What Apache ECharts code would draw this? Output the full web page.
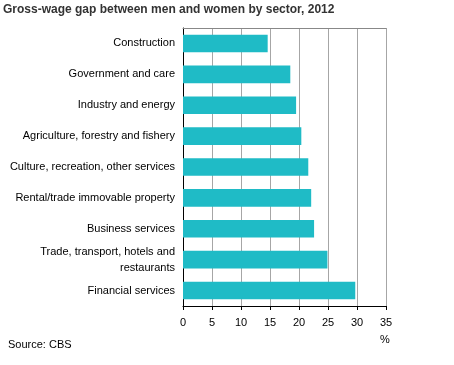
<!DOCTYPE html>
<html><head><meta charset="utf-8">
<script src="https://cdn.jsdelivr.net/npm/echarts@6/dist/echarts.min.js"></script>
<style>html,body{margin:0;padding:0;background:#fff}#c{width:454px;height:365px}</style>
</head><body><div id="c"></div>
<script>
const categories = ["Construction","Government and care","Industry and energy","Agriculture, forestry and fishery","Culture, recreation, other services","Rental/trade immovable property","Business services","Trade, transport, hotels and\nrestaurants","Financial services"];
const values = [14.6, 18.5, 19.5, 20.4, 21.6, 22.1, 22.6, 24.9, 29.7];
const xTicks = [0,5,10,15,20,25,30,35];
const chart = echarts.init(document.getElementById('c'), null, {renderer:'canvas'});
const font = 'Arial, "Liberation Sans", sans-serif';
chart.setOption({
  animation:false,
  title:[
    {text:"Gross-wage gap between men and women by sector, 2012", left:3, top:4, padding:0, textStyle:{fontFamily:font, fontSize:12, fontWeight:'bold', color:'#333'}},
    {text:"Source: CBS", left:8, top:339, padding:0, textStyle:{fontFamily:font, fontSize:11, fontWeight:'normal', color:'#000'}},
    {text:"%", left:380, top:334, padding:0, textStyle:{fontFamily:font, fontSize:11, fontWeight:'normal', color:'#000'}}
  ],
  grid:{left:183, right:68, top:28, bottom:59, containLabel:false},
  xAxis:[{
    type:'value', min:0, max:35, interval:5, position:'bottom',
    axisLine:{show:true, lineStyle:{color:'#000'}},
    axisTick:{show:true, length:4, lineStyle:{color:'#000'}},
    axisLabel:{fontFamily:font, fontSize:11, color:'#000', margin:11},
    splitLine:{show:true, lineStyle:{color:'#a6a6a6'}}
  },{
    type:'value', min:0, max:35, interval:5, position:'top',
    axisLine:{show:true, lineStyle:{color:'#888'}},
    axisTick:{show:false}, axisLabel:{show:false}, splitLine:{show:false}
  }],
  yAxis:{
    type:'category', data:categories, inverse:true,
    axisLine:{show:true, lineStyle:{color:'#000'}},
    axisTick:{show:false},
    axisLabel:{fontFamily:font, fontSize:11, color:'#000', margin:8, lineHeight:16}
  },
  series:[{
    type:'bar', data:values, xAxisIndex:0, barCategoryGap:'43%',
    itemStyle:{color:'#1fbbc6'}
  }]
});
</script></body></html>
